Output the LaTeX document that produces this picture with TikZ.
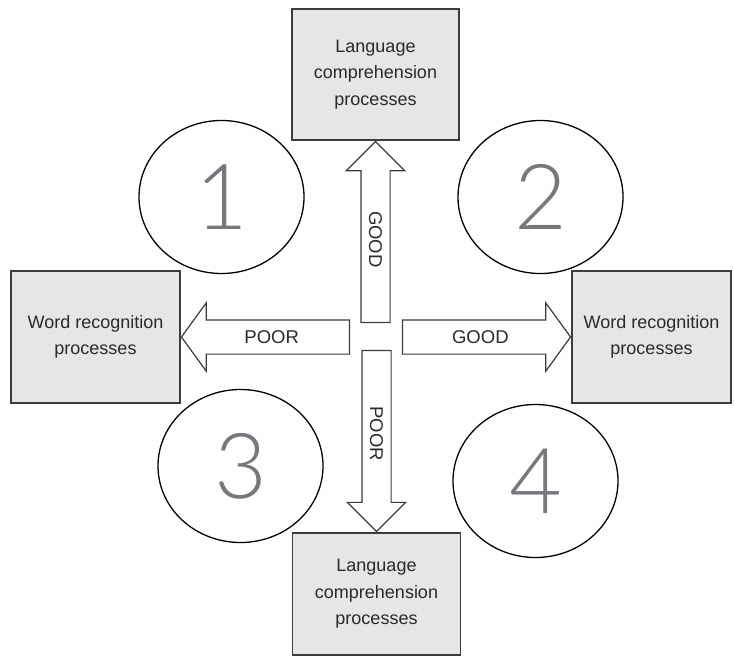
\documentclass[tikz,border=0pt]{standalone}
\usepackage{fontspec}
\setmainfont{Liberation Sans}
\IfFontExistsTF{Lato Light}{\newfontfamily\numfont{Lato Light}}{\newfontfamily\numfont{Liberation Sans}}
\usepackage{xcolor}
\usetikzlibrary{shapes.geometric}
\usetikzlibrary{shapes.arrows}
\definecolor{boxgray}{HTML}{E6E6E6}
\definecolor{linegray}{HTML}{3C3C3C}
\definecolor{textgray}{HTML}{2A2A2A}
\definecolor{numgray}{HTML}{76787D}

\begin{document}
\begin{tikzpicture}[x=1pt, y=1pt,
    procbox/.style={draw=linegray, line width=1.4pt, fill=boxgray, rectangle, align=center, inner sep=0pt, text=textgray, font=\fontsize{18}{26.5}\selectfont},
    hblock/.style={single arrow, draw=linegray, line width=1.2pt, fill=white, text=textgray, font=\fontsize{18.5}{20}\selectfont, text height=13pt, text depth=0pt, inner ysep=10pt, single arrow head extend=17pt, single arrow tip angle=108, minimum height=168pt},
    vblock/.style={single arrow, draw=linegray, line width=1.2pt, fill=white, text=textgray, font=\fontsize{18.5}{20}\selectfont, text height=13pt, text depth=0pt, inner ysep=7.5pt, single arrow head extend=14.5pt, single arrow tip angle=90, minimum height=181pt, rotate=-90},
    quadrant/.style={draw, ellipse, line width=1.3pt, minimum width=165pt, minimum height=153pt, inner sep=0pt, text=numgray, font=\numfont\fontsize{91}{91}\selectfont}
    ]
    \useasboundingbox (0,0) rectangle (734,-662);

    % the four process boxes
    \node[procbox, minimum width=167pt, minimum height=131pt] (langTop) at (375.5,-74.5) {Language\\comprehension\\processes};
    \node[procbox, minimum width=168pt, minimum height=122pt] (langBottom) at (376.5,-594) {Language\\comprehension\\processes};
    \node[procbox, minimum width=169pt, minimum height=132pt] (wordLeft) at (95.5,-337) {Word recognition\\processes};
    \node[procbox, minimum width=159pt, minimum height=132pt] (wordRight) at (651.5,-337) {Word recognition\\processes};

    % block arrows
    \node[vblock, shape border rotate=180, anchor=tip] (goodUp) at (langTop.south) {GOOD};
    \node[vblock, anchor=tip] (poorDown) at (langBottom.north) {POOR};
    \node[hblock, shape border rotate=180, anchor=tip] (poorLeft) at (wordLeft.east) {POOR};
    \node[hblock, anchor=tip] (goodRight) at (wordRight.west) {GOOD};

    % numbered quadrants
    \node[quadrant] (q1) at (221.5,-197) {1};
    \node[quadrant] (q2) at (540.5,-197) {2};
    \node[quadrant] (q3) at (240.5,-466) {3};
    \node[quadrant] (q4) at (535.5,-481) {4};
\end{tikzpicture}
\end{document}
